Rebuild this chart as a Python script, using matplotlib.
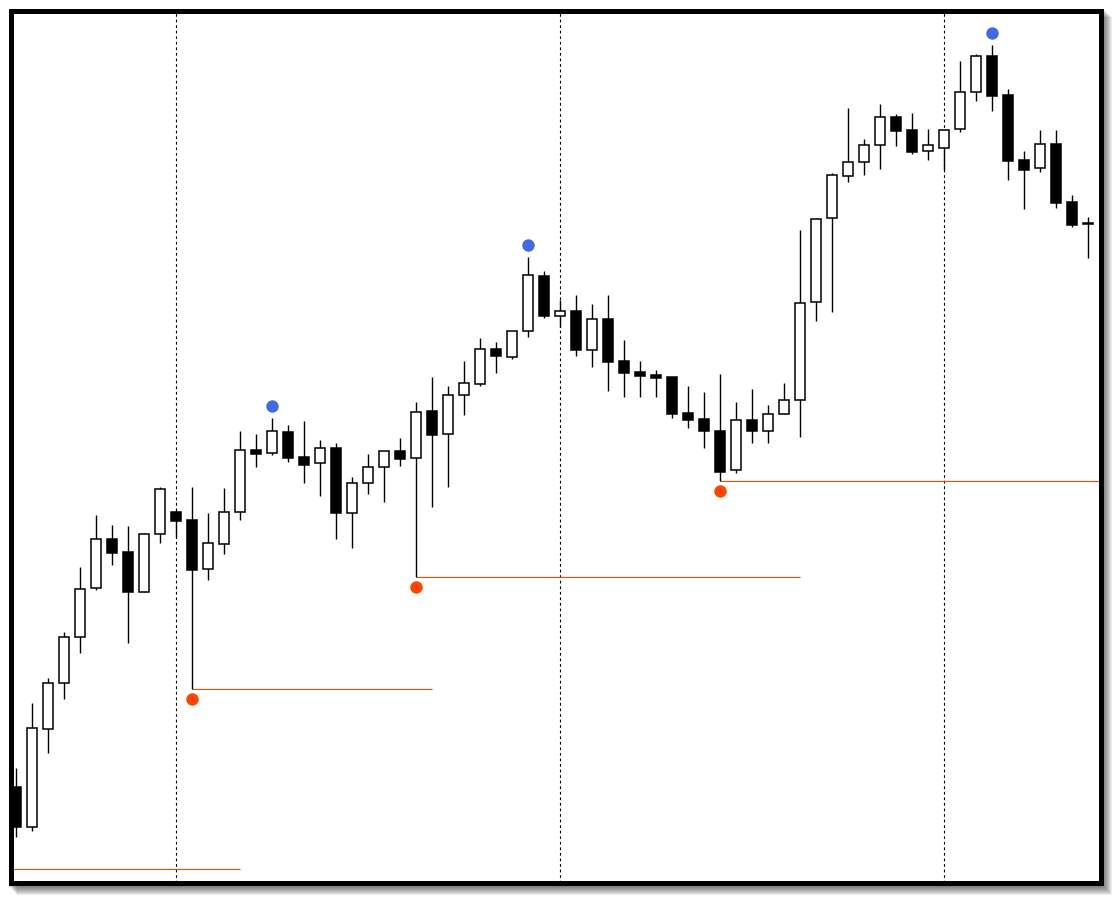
import matplotlib
matplotlib.use("Agg")
import matplotlib.pyplot as plt
from matplotlib.patches import Rectangle
import numpy as np

# ---- data (price units; higher = up) ----
opens = [113, 73, 171, 217, 263, 312, 361, 348, 308, 366, 388, 380, 331, 356, 388, 450, 447,
         468, 443, 437, 452, 387, 417, 433, 449, 442, 489, 466, 505, 516, 551, 543, 569, 624,
         584, 589, 550, 581, 539, 528, 525, 523, 487, 481, 469, 430, 480, 469, 486, 500, 598,
         682, 724, 738, 755, 783, 770, 749, 752, 771, 808, 844, 805, 740, 732, 756, 698, 677]
highs = [132, 197, 222, 268, 333, 385, 375, 374, 367, 413, 390, 413, 387, 412, 469, 466, 482,
         475, 479, 460, 457, 423, 446, 449, 462, 498, 523, 514, 539, 562, 558, 569, 643, 629,
         600, 605, 596, 605, 560, 539, 530, 523, 514, 508, 526, 498, 511, 495, 517, 670, 682,
         727, 792, 761, 796, 786, 787, 771, 770, 839, 846, 855, 811, 749, 770, 770, 705, 683]
lows = [63, 69, 147, 201, 247, 310, 335, 257, 308, 357, 363, 211, 320, 346, 380, 433, 445,
        438, 417, 404, 361, 352, 406, 398, 434, 323, 393, 413, 485, 514, 527, 541, 563, 582,
        573, 544, 533, 509, 503, 503, 503, 482, 472, 452, 419, 427, 457, 457, 486, 463, 579,
        588, 718, 725, 731, 754, 746, 740, 730, 768, 799, 789, 720, 691, 728, 692, 673, 642]
closes = [73, 172, 217, 263, 311, 361, 347, 308, 366, 411, 379, 330, 357, 388, 450, 446, 469,
          442, 435, 452, 387, 417, 433, 449, 441, 488, 465, 505, 517, 551, 544, 569, 625, 584,
          589, 550, 581, 538, 527, 524, 522, 486, 480, 469, 428, 480, 469, 486, 500, 597, 681,
          725, 738, 755, 783, 769, 748, 755, 770, 808, 844, 804, 739, 730, 756, 697, 675, 676]

swing_high_idx = [16, 32, 61]
swing_low_idx = [11, 25, 44]
# support levels: (price, start index, end index); None = chart edge
levels = [(31, None, 14), (211, 11, 26), (323, 25, 49), (419, 44, None)]
session_idx = [10, 34, 58]

W, H = 1119, 902
fig = plt.figure(figsize=(W / 100, H / 100), dpi=100)
fig.patch.set_facecolor("white")

# axes placed so its spines form the thick border
L, R, T, B = 10.5, 1100.5, 10.5, 883.0
ax = fig.add_axes([L / W, (H - B) / H, (R - L) / W, (B - T) / H])
ax.set_facecolor("white")
for s in ax.spines.values():
    s.set_linewidth(3.6)
    s.set_color("black")
ax.set_xticks([])
ax.set_yticks([])

# drop shadow
for o in range(1, 10):
    fig.patches.append(Rectangle(((8 + o) / W, (H - 886 - o) / H), (1095) / W, (878) / H,
                                 transform=fig.transFigure, facecolor="black",
                                 edgecolor="none", alpha=0.07, zorder=-5))

n = len(opens)
x = np.arange(n)
o = np.array(opens, float)
h = np.array(highs, float)
l = np.array(lows, float)
c = np.array(closes, float)

ax.set_xlim((L - 16) / 16, (R - 16) / 16)
ax.set_ylim(900 - B, 900 - T)

# session separators
for i in session_idx:
    ax.axvline(i, color="black", lw=0.8, ls=(0, (2.5, 2.5)), zorder=1)

# wicks
ax.vlines(x, l, h, color="black", lw=1.0, zorder=2)

# bodies
up = c >= o
bottom = np.minimum(o, c)
height = np.maximum(np.abs(c - o), 1.2)
ax.bar(x[up], height[up], bottom=bottom[up], width=0.62, color="white",
       edgecolor="black", linewidth=1.1, zorder=3)
ax.bar(x[~up], height[~up], bottom=bottom[~up], width=0.62, color="black",
       edgecolor="black", linewidth=1.1, zorder=3)

# support levels
xl0, xl1 = ax.get_xlim()
for price, s0, s1 in levels:
    a = xl0 if s0 is None else s0
    b = xl1 if s1 is None else s1
    ax.plot([a, b], [price, price], color="#FF4500", lw=0.8, zorder=1.5,
            solid_capstyle="butt")

# swing markers
sh = np.array(swing_high_idx)
sl = np.array(swing_low_idx)
ax.scatter(sh, h[sh] + 12, s=80, color="#4169E1", zorder=4, linewidths=0)
ax.scatter(sl, l[sl] - 10, s=80, color="#FF4500", zorder=4, linewidths=0)

fig.savefig("out.png", dpi=100)
